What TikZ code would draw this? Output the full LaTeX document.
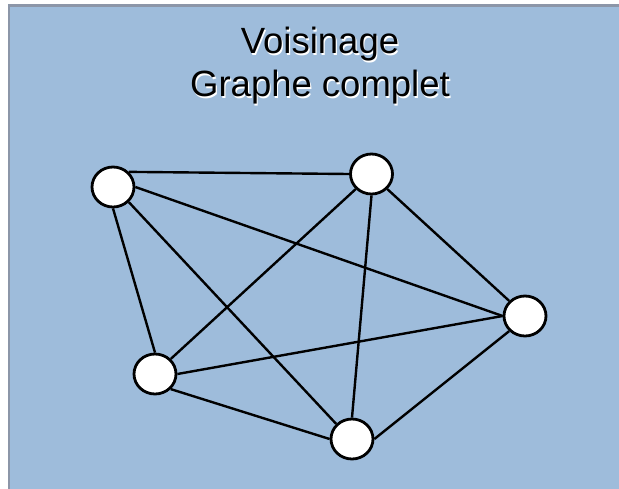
\documentclass[tikz,border=0pt]{standalone}
\usepackage{fontspec}
\setmainfont{Liberation Sans}
\usetikzlibrary{shapes.geometric}
\definecolor{fondbleu}{HTML}{9EBCDB}
\definecolor{bordgris}{HTML}{8C96A8}
\tikzset{
    sommet/.style={ellipse, draw=black, fill=white, line width=2.8pt, minimum width=42pt, minimum height=40pt, inner sep=0pt},
    arete/.style={black, line width=2.4pt}
}
\begin{document}
\begin{tikzpicture}[x=1pt, y=-1pt]
        \useasboundingbox (0,0) rectangle (619,488);
        \clip (0,0) rectangle (619,488);
        \filldraw[fill=fondbleu, draw=bordgris, line width=2.5pt] (9,5.5) rectangle (640,510);
        \node[align=center, font=\fontsize{36.5}{43}\selectfont, text=white] at (321.2,67.2) {Voisinage\\Graphe complet};
        \node[align=center, font=\fontsize{36.5}{43}\selectfont] (titre) at (320,66) {Voisinage\\Graphe complet};
        % sommets
        \node[sommet] (a) at (113,187) {};
        \node[sommet] (b) at (371.5,174) {};
        \node[sommet] (c) at (525,316) {};
        \node[sommet] (d) at (155,374) {};
        \node[sommet] (e) at (352,439) {};
        % aretes (entre points d'accroche)
        \draw[arete] (a.north east) -- (b.west);
        \draw[arete] (a.east) -- (c.west);
        \draw[arete] (a.south) -- (d.north);
        \draw[arete] (a.south east) -- (e.north west);
        \draw[arete] (b.south east) -- (c.north west);
        \draw[arete] (b.south west) -- (d.north east);
        \draw[arete] (b.south) -- (e.north);
        \draw[arete] (c.west) -- (d.east);
        \draw[arete] (c.south west) -- (e.east);
        \draw[arete] (d.south east) -- (e.west);
    \end{tikzpicture}
\end{document}
